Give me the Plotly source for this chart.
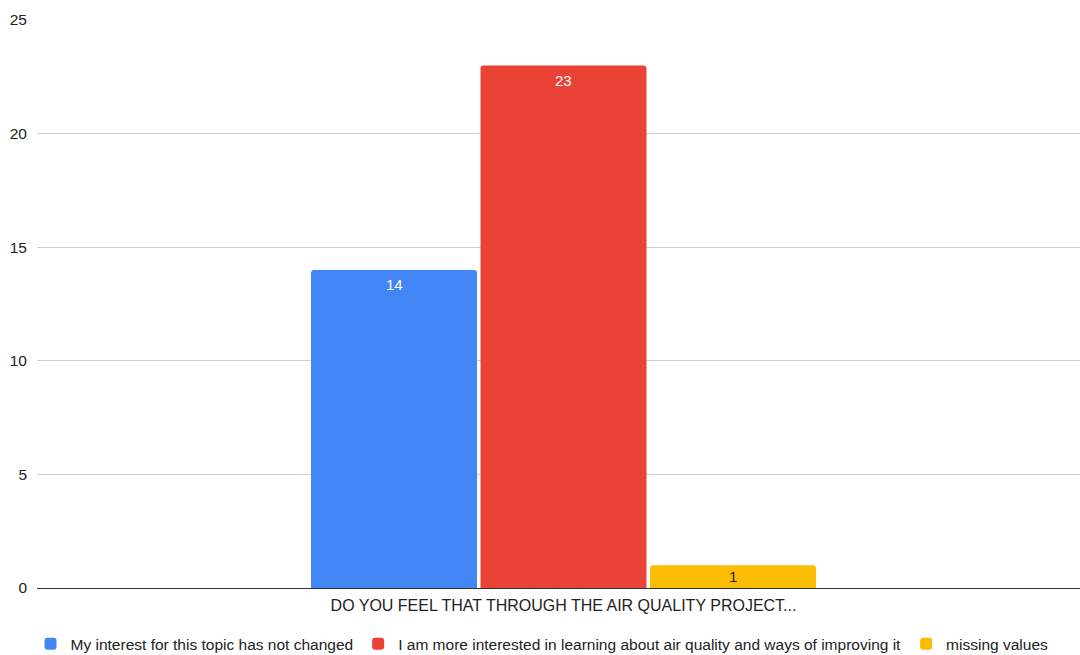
import plotly.graph_objects as go

# Survey question and the answers counted for it
question = ["DO YOU FEEL THAT THROUGH THE AIR QUALITY PROJECT..."]
answers = [
    "My interest for this topic has not changed",
    "I am more interested in learning about air quality and ways of improving it",
    "missing values",
]
counts = [14, 23, 1]
colors = ["#4285F4", "#EA4335", "#FBBC04"]
text_colors = ["#FFFFFF", "#FFFFFF", "#222222"]

y_ticks = [0, 5, 10, 15, 20, 25]

FONT = "Liberation Sans, Arial, sans-serif"
BARGAP = 0.5125
GROUPGAP = 0.0206
Y_MAX = 25
PLOT_H = 655 - 20 - 67

fig = go.Figure()
for name, n, c in zip(answers, counts, colors):
    fig.add_trace(go.Bar(
        x=question,
        y=[n],
        name=name,
        marker=dict(color=c, line=dict(width=0)),
        hoverinfo="skip",
    ))

# Value labels just inside the top of each bar (centred in very short bars)
group_w = 1 - BARGAP
slot = group_w / len(counts)
for i, (n, tc) in enumerate(zip(counts, text_colors)):
    bar_px = n / Y_MAX * PLOT_H
    fig.add_annotation(
        x=-group_w / 2 + slot * (i + 0.5),
        y=n,
        xref="x",
        yref="y",
        text=str(n),
        showarrow=False,
        yanchor="middle",
        yshift=-min(15, bar_px / 2),
        font=dict(family=FONT, size=15, color=tc),
    )

fig.update_layout(
    width=1080,
    height=655,
    margin=dict(l=37, r=0, t=20, b=67, autoexpand=False),
    paper_bgcolor="white",
    plot_bgcolor="white",
    barmode="group",
    bargap=BARGAP,
    bargroupgap=GROUPGAP,
    barcornerradius=3,
    font=dict(family=FONT, size=15, color="#222222"),
    showlegend=True,
    legend=dict(
        orientation="h",
        x=-0.0062,
        xanchor="left",
        y=-0.069,
        yanchor="top",
        font=dict(family=FONT, size=15.5, color="#222222"),
        itemwidth=30,
        traceorder="normal",
    ),
    xaxis=dict(
        range=[-0.5048, 0.4952],
        showgrid=False,
        showline=False,
        ticks="",
        ticklabelstandoff=6,
        tickfont=dict(family=FONT, size=16, color="#222222"),
        fixedrange=True,
    ),
    yaxis=dict(
        range=[0, Y_MAX],
        tickvals=y_ticks,
        showgrid=True,
        gridcolor="#D0D0D0",
        gridwidth=1,
        zeroline=True,
        zerolinecolor="#333333",
        zerolinewidth=1.3,
        ticks="",
        ticklabelstandoff=9,
        tickfont=dict(family=FONT, size=15.5, color="#222222"),
        fixedrange=True,
    ),
)

fig.write_html("out.html")
